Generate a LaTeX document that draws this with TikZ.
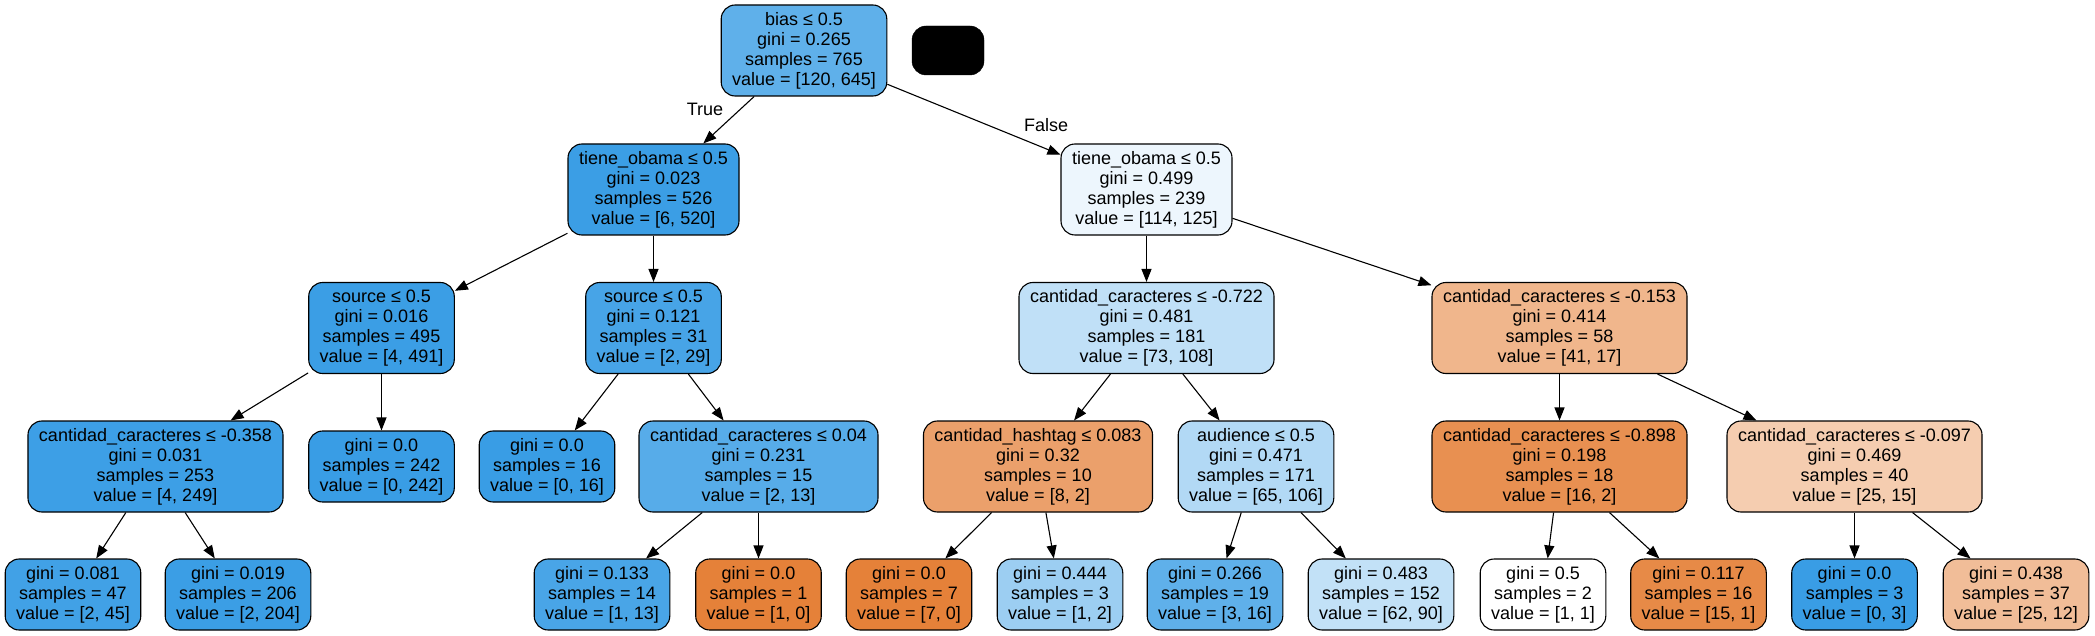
\documentclass[tikz,border=0pt]{standalone}
\usepackage{fontspec}
\setmainfont{Liberation Sans}
\usetikzlibrary{arrows.meta}
\definecolor{cO}{RGB}{229,129,57}
\definecolor{cB}{RGB}{57,157,229}
\begin{document}
\begin{tikzpicture}[x=1pt,y=-1pt,
  tn/.style={draw=black, line width=1.1pt, rounded corners=14pt, align=center,
    font=\fontsize{18}{20}\selectfont, inner xsep=11pt, inner ysep=0pt, minimum height=91pt},
  lf/.style={tn, minimum height=71pt},
  ed/.style={draw=black, line width=1.1pt, -{Triangle[length=13pt,width=10pt]}},
  lab/.style={font=\fontsize{18}{20}\selectfont, inner sep=0pt}]
\useasboundingbox (0,0) rectangle (2095,636);
% level 0
\node[tn, fill=cB!81!white] (root) at (804,50.5) {bias ≤ 0.5\\gini = 0.265\\samples = 765\\value = [120, 645]};
\node[draw=black, fill=black, rounded corners=14pt, minimum width=72pt, minimum height=49pt, inner sep=0pt] (blk) at (948,50.5) {};
% level 1
\node[tn, fill=cB!99!white] (l1) at (653.5,189.5) {tiene\_obama ≤ 0.5\\gini = 0.023\\samples = 526\\value = [6, 520]};
\node[tn, fill=cB!9!white] (r1) at (1146.5,189.5) {tiene\_obama ≤ 0.5\\gini = 0.499\\samples = 239\\value = [114, 125]};
% level 2
\node[tn, fill=cB!99!white] (sl) at (381.5,328) {source ≤ 0.5\\gini = 0.016\\samples = 495\\value = [4, 491]};
\node[tn, fill=cB!93!white] (sr) at (653.5,328) {source ≤ 0.5\\gini = 0.121\\samples = 31\\value = [2, 29]};
\node[tn, fill=cB!32!white] (c722) at (1146.5,328) {cantidad\_caracteres ≤ -0.722\\gini = 0.481\\samples = 181\\value = [73, 108]};
\node[tn, fill=cO!58!white] (c153) at (1559.5,328) {cantidad\_caracteres ≤ -0.153\\gini = 0.414\\samples = 58\\value = [41, 17]};
% level 3
\node[tn, fill=cB!98!white] (c358) at (155.5,466.5) {cantidad\_caracteres ≤ -0.358\\gini = 0.031\\samples = 253\\value = [4, 249]};
\node[lf, fill=cB] (g242) at (381.5,466.5) {gini = 0.0\\samples = 242\\value = [0, 242]};
\node[lf, fill=cB] (g16) at (547,466.5) {gini = 0.0\\samples = 16\\value = [0, 16]};
\node[tn, fill=cB!85!white] (c04) at (758.5,466.5) {cantidad\_caracteres ≤ 0.04\\gini = 0.231\\samples = 15\\value = [2, 13]};
\node[tn, fill=cO!75!white] (hash) at (1038,466.5) {cantidad\_hashtag ≤ 0.083\\gini = 0.32\\samples = 10\\value = [8, 2]};
\node[tn, fill=cB!39!white] (aud) at (1256,466.5) {audience ≤ 0.5\\gini = 0.471\\samples = 171\\value = [65, 106]};
\node[tn, fill=cO!88!white] (c898) at (1559.5,466.5) {cantidad\_caracteres ≤ -0.898\\gini = 0.198\\samples = 18\\value = [16, 2]};
\node[tn, fill=cO!40!white] (c097) at (1854.5,466.5) {cantidad\_caracteres ≤ -0.097\\gini = 0.469\\samples = 40\\value = [25, 15]};
% level 4
\node[lf, fill=cB!96!white] (f47) at (73,594.5) {gini = 0.081\\samples = 47\\value = [2, 45]};
\node[lf, fill=cB!99!white] (f206) at (238,594.5) {gini = 0.019\\samples = 206\\value = [2, 204]};
\node[lf, fill=cB!92!white] (f14) at (602,594.5) {gini = 0.133\\samples = 14\\value = [1, 13]};
\node[lf, fill=cO] (f1) at (758.5,594.5) {gini = 0.0\\samples = 1\\value = [1, 0]};
\node[lf, fill=cO] (f7) at (909,594.5) {gini = 0.0\\samples = 7\\value = [7, 0]};
\node[lf, fill=cB!50!white] (f3) at (1060,594.5) {gini = 0.444\\samples = 3\\value = [1, 2]};
\node[lf, fill=cB!81!white] (f19) at (1215,594.5) {gini = 0.266\\samples = 19\\value = [3, 16]};
\node[lf, fill=cB!31!white] (f152) at (1381,594.5) {gini = 0.483\\samples = 152\\value = [62, 90]};
\node[lf, fill=white] (f2) at (1543,594.5) {gini = 0.5\\samples = 2\\value = [1, 1]};
\node[lf, fill=cO!93!white] (f16) at (1698.5,594.5) {gini = 0.117\\samples = 16\\value = [15, 1]};
\node[lf, fill=cB] (f03) at (1854.5,594.5) {gini = 0.0\\samples = 3\\value = [0, 3]};
\node[lf, fill=cO!52!white] (f37) at (2016,594.5) {gini = 0.438\\samples = 37\\value = [25, 12]};
% edge labels
\node[lab] (ltrue) at (705,109) {True};
\node[lab] (lfalse) at (1046,125) {False};
% edges
\draw[ed] (root) -- (l1);
\draw[ed] (root) -- (r1);
\draw[ed] (l1) -- (sl);
\draw[ed] (l1) -- (sr);
\draw[ed] (r1) -- (c722);
\draw[ed] (r1) -- (c153);
\draw[ed] (sl) -- (c358);
\draw[ed] (sl) -- (g242);
\draw[ed] (sr) -- (g16);
\draw[ed] (sr) -- (c04);
\draw[ed] (c722) -- (hash);
\draw[ed] (c722) -- (aud);
\draw[ed] (c153) -- (c898);
\draw[ed] (c153) -- (c097);
\draw[ed] (c358) -- (f47);
\draw[ed] (c358) -- (f206);
\draw[ed] (c04) -- (f14);
\draw[ed] (c04) -- (f1);
\draw[ed] (hash) -- (f7);
\draw[ed] (hash) -- (f3);
\draw[ed] (aud) -- (f19);
\draw[ed] (aud) -- (f152);
\draw[ed] (c898) -- (f2);
\draw[ed] (c898) -- (f16);
\draw[ed] (c097) -- (f03);
\draw[ed] (c097) -- (f37);
\end{tikzpicture}
\end{document}
